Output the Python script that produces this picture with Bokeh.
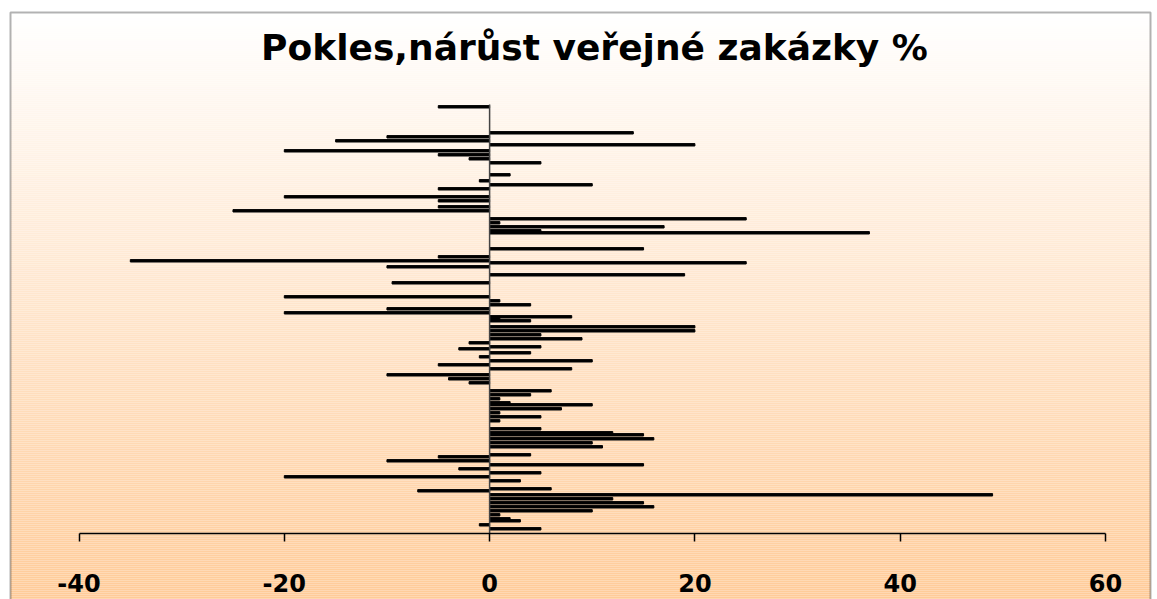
import numpy as np
from bokeh.plotting import figure
from bokeh.models import Range1d, FixedTicker, Label, BoxAnnotation, LinearAxis
from bokeh.embed import file_html
from bokeh.resources import INLINE

# ---------------- data ----------------
title_text = "Pokles,nárůst veřejné zakázky %"
tick_values = [-40, -20, 0, 20, 40, 60]
tick_labels = ["-40", "-20", "0", "20", "40", "60"]

# row number of each item (0 = top row) and its change in %
rows = [0, 13, 15, 17, 19, 22, 24, 26, 28, 34, 37, 39, 41, 45, 47, 50, 52,
        56, 58, 60, 62, 63, 71, 75, 77, 78, 80, 84, 88, 95, 97, 99, 101, 103,
        105, 106, 107, 110, 112, 114, 116, 118, 120, 121, 123, 125, 127, 129,
        131, 134, 136, 138, 142, 144, 146, 148, 149, 151, 153, 155, 157, 161,
        163, 164, 166, 168, 170, 174, 175, 177, 179, 181, 183, 185, 187, 191,
        192, 194, 196, 198, 200, 202, 204, 206, 207, 209, 211]
changes = [-5, 14, -10, -15, 20, -20, -5, -2, 5, 2, -1, 10, -5, -20, -5, -5, -25,
           25, 1, 17, 5, 37, 15, -5, -35, 25, -10, 19, -9.5, -20, 1, 4, -10, -20,
           8, 1, 4, 20, 20, 5, 9, -2, 5, -3, 4, -1, 10, -5,
           8, -10, -4, -2, 6, 4, 1, 2, 10, 7, 1, 5, 1, 5,
           12, 15, 16, 10, 11, 4, -5, -10, 15, -3, 5, -20, 3, 6,
           -7, 49, 12, 15, 16, 10, 1, 2, 3, -1, 5]

# ---------------- geometry (page pixels) ----------------
W, H = 1157, 599
PX0, PY0 = 0, 0
X_M40_PX, X_60_PX = 78.5, 1105.0
ppu = (X_60_PX - X_M40_PX) / 100.0
xmin = -40 - (X_M40_PX - PX0) / ppu
xmax = xmin + W / ppu
ROW0_PX = 106.3
pitch = 2.0
ytop = -(ROW0_PX - PY0) / pitch
ybot = ytop + H / pitch


def xd(px):
    return xmin + (px - PX0) / ppu


def yd(py):
    return ytop + (py - PY0) / pitch


axis_y = yd(532.5)

p = figure(width=W, height=H, x_range=Range1d(xmin, xmax), y_range=Range1d(ybot, ytop),
           output_backend="svg", toolbar_location=None, min_border=0,
           x_axis_location=None, y_axis_location=None)
p.xgrid.visible = False
p.ygrid.visible = False
p.outline_line_color = None
p.background_fill_color = "white"
p.border_fill_color = "white"

# background gradient (white -> light orange) inside the chart border
band = 2
tops, bots, cols = [], [], []
for py in range(12, 600, band):
    t = (py + band / 2 - 12) / (599 - 12)
    t = min(max(t, 0), 1)
    g = int(round(255 + (203 - 255) * t))
    b = int(round(255 + (152 - 255) * t))
    tops.append(yd(py))
    bots.append(yd(py + band))
    cols.append("#%02x%02x%02x" % (255, g, b))
p.quad(left=xd(10), right=xd(1150), top=tops, bottom=bots, fill_color=cols, line_color=None)

# chart border
p.add_layout(BoxAnnotation(left=xd(10), right=xd(1150), top=yd(12), bottom=yd(640),
                           fill_alpha=0, line_color="black", line_width=2))

# bars
p.hbar(y=rows, left=0, right=changes, height=1.2, fill_color="black",
       line_color="black", line_width=1.0)

# vertical category axis line at zero
p.segment(x0=[0], y0=[yd(104)], x1=[0], y1=[axis_y], line_color="#444444", line_width=1.5)

# value axis
xaxis = LinearAxis(fixed_location=axis_y, ticker=FixedTicker(ticks=tick_values), bounds=(-40, 60))
xaxis.major_label_overrides = {v: s for v, s in zip(tick_values, tick_labels)}
xaxis.axis_line_color = "black"
xaxis.axis_line_width = 1.5
xaxis.major_tick_line_color = "black"
xaxis.major_tick_line_width = 1.5
xaxis.major_tick_out = 8
xaxis.major_tick_in = 0
xaxis.minor_tick_out = 0
xaxis.minor_tick_in = 0
xaxis.major_label_text_font = "DejaVu Sans"
xaxis.major_label_text_font_style = "bold"
xaxis.major_label_text_font_size = "24px"
xaxis.major_label_text_color = "black"
xaxis.major_label_standoff = 33
p.add_layout(xaxis, "below")

# title
p.add_layout(Label(x=xd(594), y=yd(47), text=title_text, text_align="center",
                   text_baseline="middle", text_font="DejaVu Sans", text_font_style="bold",
                   text_font_size="36px", text_color="black"))

open("out.html", "w").write(file_html(p, INLINE))
